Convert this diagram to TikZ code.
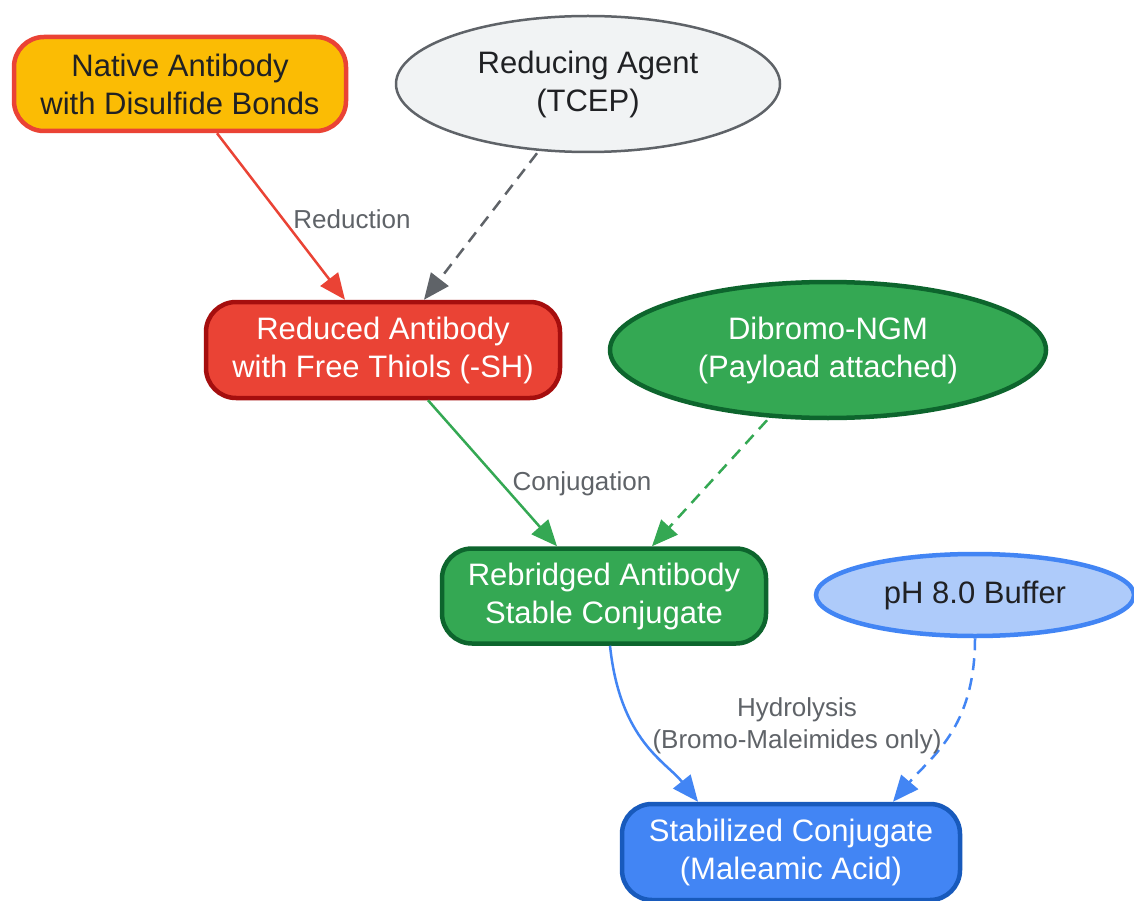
\documentclass[tikz,border=0pt]{standalone}
\usepackage{fontspec}
\setmainfont{Liberation Sans}
\usetikzlibrary{shapes.geometric,arrows.meta}
\definecolor{ylw}{HTML}{FBBC04}
\definecolor{rd}{HTML}{EA4335}
\definecolor{drd}{HTML}{A50E0E}
\definecolor{gr}{HTML}{34A853}
\definecolor{dgr}{HTML}{0D652D}
\definecolor{bl}{HTML}{4285F4}
\definecolor{dbl}{HTML}{185ABC}
\definecolor{lbl}{HTML}{AECBFA}
\definecolor{lgy}{HTML}{F1F3F4}
\definecolor{gy}{HTML}{5F6368}
\definecolor{txt}{HTML}{202124}
\tikzset{
  boxnode/.style={rectangle, rounded corners=30pt, line width=4.5pt, align=center, inner sep=0pt,
    font=\fontsize{31}{38}\selectfont},
  ellnode/.style={ellipse, align=center, inner sep=0pt, font=\fontsize{31}{38}\selectfont},
  conn/.style={line width=2.5pt, -{Triangle[length=26pt,width=22pt]}},
  dsh/.style={dash pattern=on 12pt off 8pt},
  elabel/.style={text=gy, align=center, inner sep=0pt, font=\fontsize{26}{32}\selectfont}
}
\begin{document}
\begin{tikzpicture}[x=1pt,y=-1pt]
\useasboundingbox (0,0) rectangle (1134,901);
\fill[white] (0,0) rectangle (1134,901);
\node[boxnode, fill=ylw, draw=rd, text=txt, minimum width=332pt, minimum height=94pt] (nat) at (180,84) {Native Antibody\\with Disulfide Bonds};
\node[ellnode, fill=lgy, draw=gy, line width=2.5pt, text=txt, minimum width=384pt, minimum height=136pt] (tcep) at (588,84) {Reducing Agent\\(TCEP)};
\node[boxnode, fill=rd, draw=drd, text=white, minimum width=354pt, minimum height=96pt] (red) at (383,350) {Reduced Antibody\\with Free Thiols (-SH)};
\node[ellnode, fill=gr, draw=dgr, line width=4.5pt, text=white, minimum width=436pt, minimum height=136pt] (ngm) at (828,350) {Dibromo-NGM\\(Payload attached)};
\node[boxnode, fill=gr, draw=dgr, text=white, minimum width=324pt, minimum height=95pt] (reb) at (604,596) {Rebridged Antibody\\Stable Conjugate};
\node[ellnode, fill=lbl, draw=bl, line width=4.5pt, text=txt, minimum width=318pt, minimum height=82pt] (buf) at (975,595) {pH 8.0 Buffer};
\node[boxnode, fill=bl, draw=dbl, text=white, minimum width=338pt, minimum height=96pt] (stab) at (791,852) {Stabilized Conjugate\\(Maleamic Acid)};

\draw[conn, rd] ([xshift=37pt]nat.south) -- ([xshift=-38pt]red.north);
\draw[conn, gy, dsh] ([xshift=-51pt]tcep.south) -- ([xshift=41pt]red.north);
\draw[conn, gr] ([xshift=45pt]red.south) -- ([xshift=-47pt]reb.north);
\draw[conn, gr, dsh] ([xshift=-61pt]ngm.south) -- ([xshift=48pt]reb.north);
\draw[conn, bl] ([xshift=6pt]reb.south) .. controls ([xshift=16pt,yshift=-95pt]reb.south) and ([xshift=-125pt,yshift=40pt]stab.north) .. ([xshift=-93pt]stab.north);
\draw[conn, bl, dsh] (buf.south) .. controls ([yshift=-90pt]buf.south) and ([xshift=140pt,yshift=45pt]stab.north) .. ([xshift=102pt]stab.north);

\node[elabel] (l1) at (352,219) {Reduction};
\node[elabel] (l2) at (582,484) {Conjugation};
\node[elabel] (l3) at (797,726) {Hydrolysis\\(Bromo-Maleimides only)};
\end{tikzpicture}
\end{document}
